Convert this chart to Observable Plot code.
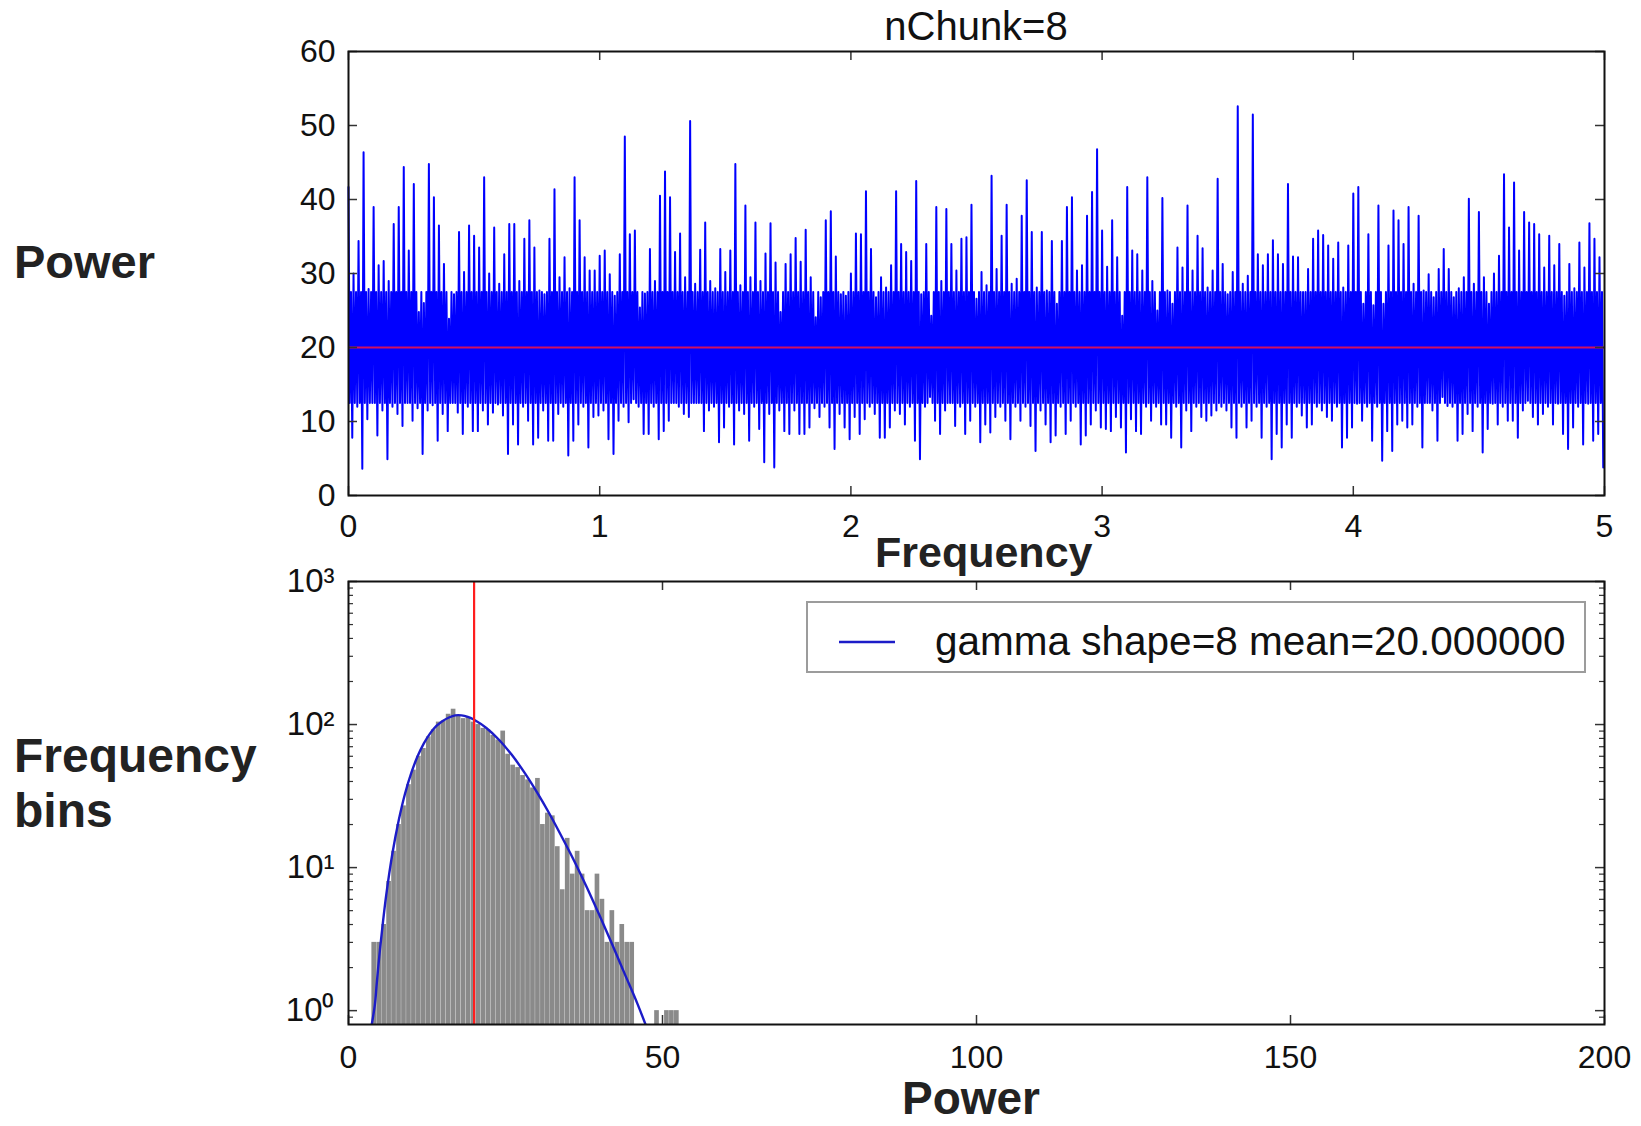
<!DOCTYPE html>
<html>
<head>
<meta charset="utf-8">
<script src="https://cdn.jsdelivr.net/npm/d3@7"></script>
<script src="https://cdn.jsdelivr.net/npm/@observablehq/plot@0.6"></script>
<style>
  html, body { margin: 0; padding: 0; background: #fff; }
  #wrap { position: relative; width: 1641px; height: 1126px; overflow: hidden; font-family: "Liberation Sans", Arial, sans-serif; }
  .chart { position: absolute; left: 0; }
  .lbl { position: absolute; font-weight: bold; color: #222; white-space: nowrap; }
  #legend { position: absolute; left: 806px; top: 601px; width: 776px; height: 68px; border: 2px solid #9c9c9c; background: #fff; }
  #legend svg { position: absolute; left: 0; top: 0; }
  #legend span { position: absolute; left: 127px; top: 4px; line-height: 68px; font-size: 40.5px; color: #111; white-space: nowrap; }
</style>
</head>
<body>
<div id="wrap">
  <div class="lbl" style="left:14px; top:238px; font-size:47px; line-height:47px;">Power</div>
  <div class="lbl" style="left:14px; top:728px; font-size:48px; line-height:55px;">Frequency<br>bins</div>
  <div class="lbl" style="left:875px; width:200px; text-align:center; top:530px; font-size:43px; line-height:44px;">Frequency</div>
  <div class="lbl" style="left:871px; width:200px; text-align:center; top:1075px; font-size:46px; line-height:46px;">Power</div>
  <div style="position:absolute; left:776px; width:400px; text-align:center; top:6px; font-size:40px; line-height:40px; color:#111;">nChunk=8</div>
  <div id="top" class="chart" style="top:0px;"></div>
  <div id="bottom" class="chart" style="top:560px;"></div>
  <div id="legend">
    <svg width="776" height="68"><line x1="31" x2="87" y1="39" y2="39" stroke="#1c1cc8" stroke-width="2.5"></line></svg>
    <span>gamma shape=8 mean=20.000000</span>
  </div>
</div>
<script>
// ---------- top panel: power spectrum (upper spike / lower trough in each 0.02 slot) ----------
const hiPeaks = [
  41.7,30,34.4,46.4,27.9,39.0,31.1,31.7,29,36.7,39.0,44.4,33.1,42.1,24.8,26,44.8,40.3,36.5,31.3,23.9,27.2,35.6,30.2,36.5,35.1,33.5,43.0,30,36.2,28.6,32.6,36.7,36.7,29,34.7,37.2,33.5,27.7,27.2,34.7,41.4,29.5,32.2,28,43.0,37.2,32.2,30.4,30.4,
  32.4,33.1,29.9,27.0,32.6,48.5,35.3,35.8,25.4,27.3,33.3,29.0,40.5,43.8,40.3,32.9,35.4,29.5,50.6,28.6,33.2,36.9,29.0,28,33.3,30.2,33.1,44.8,28.4,39.2,29.5,36.9,29,32.7,36.8,31.5,24.8,31.3,32.6,34.8,31.6,35.9,29.5,24.1,26.8,37.2,38.4,32.3,27.2,27.0,
  30,35.4,35.3,41.1,33.3,26.8,29.5,28.1,31.1,41.1,34.0,32.9,31.7,42.5,27.2,34.0,24.3,39.0,29,38.7,34.0,30.4,34.7,34.9,39.3,26.6,30.2,28.4,43.2,30.6,35.1,39.3,28.6,29.3,37.8,42.6,35.6,28.1,35.6,27.7,34.4,25.9,34.4,39.0,40.3,30.4,31.1,37.8,41.0,46.8,
  35.8,30.9,37.2,32.2,24.3,41.7,33.1,32.6,30.4,43.0,29.0,25.0,40.2,27.7,25.9,33.5,30.8,39.2,30.4,35.1,33.4,28.1,30.4,42.8,31.3,27.2,30.2,52.6,28.6,29.7,51.5,32.6,31.1,32.6,34.5,32.6,31.3,42.1,32.3,32.2,27.5,30.6,34.7,35.8,35.2,33.8,32.0,34.2,28.1,33.8,
  40.8,41.7,25.9,35.3,25.7,39.2,25.9,33.8,38.5,37.2,34.0,39.0,28.6,37.8,27.7,29.9,26.8,30.6,33.3,30.6,26.8,28,29.5,40.1,28.6,38.3,29.5,25.9,30,32.4,43.4,36.2,42.3,33.1,38.3,36.9,36.7,35.3,30.8,35.1,31.1,34.0,27.0,31.3,28,34.2,30.8,36.8,34.7,32.2
];
const loTroughs = [
  7.8,12,3.6,10.3,12.5,8.1,11.5,4.9,12,11,9.4,12.5,10.1,11.8,5.6,11.5,12.2,7.4,11,8.7,12.5,11.2,8.3,12,8.7,8.7,11.5,9.6,11.2,12.3,10.8,5.6,9.6,6.9,12,10.1,6.9,7.8,11.5,7.4,7.4,11,12,5.4,7.4,9.6,12,6.5,10.6,10.8,
  11.5,7.6,5.6,10.1,12,9.9,13,12,8.3,8.3,12,7.6,8.7,10.1,12.5,12,11.0,10.6,12.5,12.5,8.7,11.5,12,7.2,9.2,12,6.9,11.5,11.0,7.4,12,9.0,4.5,11,3.8,11.5,8.7,8.3,11.5,8.3,8.3,9.2,11.8,10.6,12,9.2,6.3,11,9.2,7.6,
  10.6,8.3,10.3,12,11.0,7.8,7.8,9.2,11.5,11.0,9.6,12,7.4,4.9,12,13.3,10.1,8.3,11.5,12.5,9.4,12,8.3,10.1,12,7.2,9.6,8.5,10.6,12,10.1,7.6,12,10.1,12,9.4,6.0,11.5,9.6,7.2,8.1,12,8.3,10.1,12,6.9,8.1,9.6,11.5,9.2,
  9.0,8.7,10.6,9.2,5.8,10.3,8.7,8.3,12,10.1,12,9.6,9.6,7.8,12,6.5,11.5,8.7,12,10.6,10.1,10.8,11.5,12,11.5,9.2,7.8,12,9.2,10.1,12,7.8,12,4.9,8.3,6.5,9.6,7.8,12,10.8,9.2,9.6,12,11.5,10.6,10.1,12,6.5,7.8,9.2,
  12.4,10.1,12,7.4,12,4.7,8.7,6.0,9.6,10.1,9.2,9.6,12,6.5,12.5,11.5,7.4,13.3,12.1,12,7.4,8.3,11.0,8.7,12,5.8,9.0,12.4,9.6,12,10.1,10.1,7.8,11.5,12.8,10.6,9.6,11.0,12,9.6,12.4,8.3,6.3,9.2,12,6.9,12.4,7.4,8.3,3.8
];
const coreUpper = 27.5; // upper edge of the dense blue core
const coreLower = 12.5; // lower edge of the dense blue core
const slotWidth = 0.02; // frequency width of one hi/lo slot
const meanPower = 20;

const xTicksTop = [0, 1, 2, 3, 4, 5];
const yTicksTop = [0, 10, 20, 30, 40, 50, 60];

// ---------- bottom panel: histogram of power ----------
const binStart = 3.7;
const binWidth = 0.79;
const binCounts = [3,3,4,8,13,20,27,38,48,60,68,82,92,104,106,118,128,116,110,112,104,100,94,92,84,78,90,62,52,50,44,41,36,42,20,24,23,14,7,16,9,13,9,5,5,9,6,3,5,3,4,3,3,0,0,0,0,1,0,1,1,1];
const countFloor = 0.8;

const gammaPower = [3.7,4.2,4.5,5,5.5,6,7,8,9,10,11,12,13,14,15,16,17,18,19,20,22,24,26,28,30,32,34,36,38,40,42,44,46,47.3];
const gammaCount = [0.8,1.1,1.55,2.65,4.2,6.4,12.6,21.4,32.8,45.9,60,73.9,86.8,97.8,106,112,116,116,113,108,94.3,78,61.4,46.3,33.7,23.8,16.3,11.0,7.2,4.6,2.9,1.8,1.12,0.8];

const xTicksBottom = [0, 50, 100, 150, 200];
const yTicksBottom = [1, 10, 100, 1000];
const yMinorBottom = [0.9, 2,3,4,5,6,7,8,9, 20,30,40,50,60,70,80,90, 200,300,400,500,600,700,800,900];

// ---------- build tables ----------
const spectrum = [];
hiPeaks.forEach((h, i) => {
  const f0 = i * slotWidth;
  spectrum.push({f: f0, p: h});
  spectrum.push({f: f0 + slotWidth * 0.25, p: coreLower});
  spectrum.push({f: f0 + slotWidth * 0.5, p: coreUpper});
  spectrum.push({f: f0 + slotWidth * 0.75, p: loTroughs[i]});
});

const bins = binCounts.map((c, i) => ({x1: binStart + i * binWidth, x2: binStart + (i + 1) * binWidth, c}))
  .filter(d => d.c > 0);
const gamma = gammaPower.map((p, i) => ({p, c: gammaCount[i]}));

const font = "Liberation Sans, Arial, sans-serif";
const tickColor = "#333";

// ---------- top plot ----------
const W = 1641;
const tH = 560, tML = 348, tMR = 37, tMT = 51, tMB = 65;
const tInnerW = W - tML - tMR, tInnerH = tH - tMT - tMB;
const topPlot = Plot.plot({
  width: W, height: tH,
  marginLeft: tML, marginRight: tMR, marginTop: tMT, marginBottom: tMB,
  x: {domain: [0, 5]},
  y: {domain: [0, 60]},
  style: {fontFamily: font, fontSize: "32px", color: "#111", background: "transparent", overflow: "visible"},
  marks: [
    Plot.lineY(spectrum, {x: "f", y: "p", stroke: "#0000ff", strokeWidth: 2.0}),
    Plot.ruleY([meanPower], {stroke: "#d01060", strokeWidth: 2}),
    Plot.tickX(xTicksTop, {x: d => d, insetTop: tInnerH - 9, stroke: tickColor, strokeWidth: 1.5}),
    Plot.tickX(xTicksTop, {x: d => d, insetBottom: tInnerH - 9, stroke: tickColor, strokeWidth: 1.5}),
    Plot.tickY(yTicksTop, {y: d => d, insetRight: tInnerW - 9, stroke: tickColor, strokeWidth: 1.5}),
    Plot.tickY(yTicksTop, {y: d => d, insetLeft: tInnerW - 9, stroke: tickColor, strokeWidth: 1.5}),
    Plot.frame({stroke: "#111", strokeWidth: 2}),
    Plot.axisX({ticks: xTicksTop, tickSize: 0, tickPadding: 19, label: null, fontSize: 32, tickFormat: d => String(d)}),
    Plot.axisY({ticks: yTicksTop, tickSize: 0, tickPadding: 13, label: null, fontSize: 32, tickFormat: d => String(d)})
  ]
});
document.getElementById("top").appendChild(topPlot);

// ---------- bottom plot ----------
const bH = 566, bML = 348, bMR = 37, bMT = 21, bMB = 102;
const bInnerW = W - bML - bMR, bInnerH = bH - bMT - bMB;
const sup = {"0": "\u2070", "1": "\u00b9", "2": "\u00b2", "3": "\u00b3"};
const bottomPlot = Plot.plot({
  width: W, height: bH,
  marginLeft: bML, marginRight: bMR, marginTop: bMT, marginBottom: bMB,
  x: {domain: [0, 200]},
  y: {type: "log", domain: [countFloor, 1000]},
  style: {fontFamily: font, fontSize: "32px", color: "#111", background: "transparent", overflow: "visible"},
  marks: [
    Plot.rectY(bins, {x1: "x1", x2: "x2", y1: countFloor, y2: "c", fill: "#8a8a8a", insetLeft: 0.15, insetRight: 0.15}),
    Plot.line(gamma, {x: "p", y: "c", stroke: "#1c1cc8", strokeWidth: 2.4, curve: "catmull-rom", clip: true}),
    Plot.ruleX([meanPower], {stroke: "#ff1e1e", strokeWidth: 2.2}),
    Plot.tickX(xTicksBottom, {x: d => d, insetTop: bInnerH - 9, stroke: tickColor, strokeWidth: 1.5}),
    Plot.tickX(xTicksBottom, {x: d => d, insetBottom: bInnerH - 9, stroke: tickColor, strokeWidth: 1.5}),
    Plot.tickY(yTicksBottom, {y: d => d, insetRight: bInnerW - 9, stroke: tickColor, strokeWidth: 1.5}),
    Plot.tickY(yTicksBottom, {y: d => d, insetLeft: bInnerW - 9, stroke: tickColor, strokeWidth: 1.5}),
    Plot.tickY(yMinorBottom, {y: d => d, insetRight: bInnerW - 5, stroke: tickColor, strokeWidth: 1.2}),
    Plot.tickY(yMinorBottom, {y: d => d, insetLeft: bInnerW - 5, stroke: tickColor, strokeWidth: 1.2}),
    Plot.frame({stroke: "#111", strokeWidth: 2}),
    Plot.axisX({ticks: xTicksBottom, tickSize: 0, tickPadding: 21, label: null, fontSize: 32, tickFormat: d => String(d)}),
    Plot.axisY({ticks: yTicksBottom, tickSize: 0, tickPadding: 14, label: null, fontSize: 33,
      tickFormat: d => "10" + String(Math.round(Math.log10(d))).split("").map(ch => sup[ch]).join("")})
  ]
});
document.getElementById("bottom").appendChild(bottomPlot);
</script>
</body>
</html>
